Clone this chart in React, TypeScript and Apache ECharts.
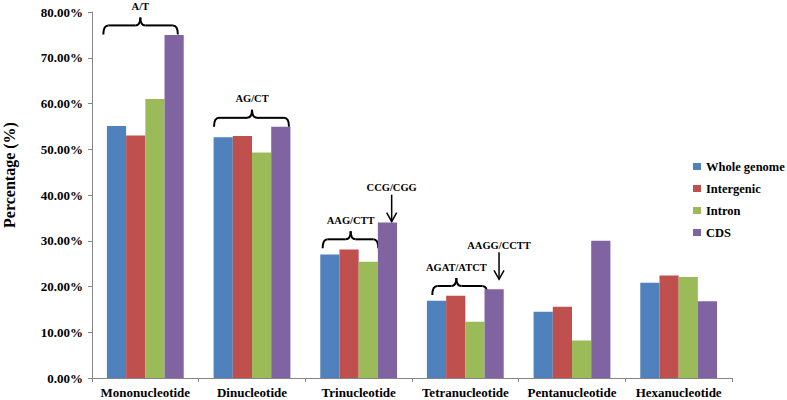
import React, { useEffect, useRef } from "react";
import * as echarts from "echarts";

const categories = [
  "Mononucleotide",
  "Dinucleotide",
  "Trinucleotide",
  "Tetranucleotide",
  "Pentanucleotide",
  "Hexanucleotide",
];
const seriesNames = ["Whole genome", "Intergenic", "Intron", "CDS"];
const wholeGenome = [55.1, 52.6, 27.0, 16.9, 14.5, 20.8];
const intergenic = [53.0, 52.9, 28.1, 18.0, 15.6, 22.4];
const intron = [61.0, 49.3, 25.4, 12.3, 8.2, 22.1];
const cds = [75.0, 54.9, 34.0, 19.4, 30.0, 16.8];
const colors = ["#4F81BD", "#C0504D", "#9BBB59", "#8064A2"];
const yTicks = [0, 10, 20, 30, 40, 50, 60, 70, 80];
const yTitle = "Percentage (%)";

// annotation config: category index, x offsets (px) from category centre, anchor value (%)
const braces = [
  { cat: 0, x0: -42, x1: 32.5, xm: -5, value: 75.1, label: "A/T" },
  { cat: 1, x0: -38, x1: 37, xm: 0, value: 54.9, label: "AG/CT" },
  { cat: 2, x0: -36, x1: 19.6, xm: -8, value: 28.35, label: "AAG/CTT" },
  { cat: 3, x0: -33, x1: 22, xm: -9, value: 18.14, label: "AGAT/ATCT" },
];
const arrows = [
  { cat: 2, dx: 33, value: 34.16, label: "CCG/CGG" },
  { cat: 3, dx: 33.7, value: 21.57, label: "AAGG/CCTT" },
];

const FONT = "Liberation Serif, serif";

export default function App() {
  const ref = useRef<HTMLDivElement>(null);
  useEffect(() => {
    if (!ref.current) return;
    const chart = echarts.init(ref.current, null, { renderer: "svg" });
    const data = [wholeGenome, intergenic, intron, cds];
    chart.setOption({
      animation: false,
      color: colors,
      grid: {
        left: 92,
        right: 55,
        top: 12,
        bottom: 22,
        containLabel: false,
        outerBoundsMode: "none",
      },
      legend: {
        orient: "vertical",
        left: 693,
        top: 160,
        padding: 0,
        itemWidth: 8,
        itemHeight: 7,
        itemGap: 9,
        icon: "rect",
        data: seriesNames,
        textStyle: {
          fontFamily: FONT,
          fontWeight: "bold",
          fontSize: 12.5,
          color: "#000",
          lineHeight: 13,
        },
      },
      xAxis: {
        type: "category",
        data: categories,
        axisLine: { lineStyle: { color: "#868686", width: 1 } },
        axisTick: { show: true, length: 4, lineStyle: { color: "#868686" } },
        axisLabel: {
          fontFamily: FONT,
          fontWeight: "bold",
          fontSize: 13,
          color: "#000",
          margin: 8,
          interval: 0,
        },
      },
      yAxis: {
        type: "value",
        min: yTicks[0],
        max: yTicks[yTicks.length - 1],
        interval: 10,
        axisLine: { show: true, lineStyle: { color: "#868686", width: 1 } },
        axisTick: { show: true, length: 4, lineStyle: { color: "#868686" } },
        splitLine: { show: false },
        axisLabel: {
          fontFamily: FONT,
          fontWeight: "bold",
          fontSize: 13,
          color: "#000",
          margin: 9,
          formatter: (v: number) => v.toFixed(2) + "%",
        },
      },
      series: seriesNames.map((name, i) => ({
        name,
        type: "bar",
        data: data[i],
        barGap: "0%",
        barCategoryGap: "28%",
        itemStyle: { color: colors[i] },
      })),
    });

    const g: any[] = [];
    g.push({
      type: "text",
      x: 9.5,
      y: 175,
      rotation: Math.PI / 2,
      style: {
        text: yTitle,
        fontFamily: FONT,
        fontWeight: "bold",
        fontSize: 16,
        fill: "#000",
        align: "center",
        verticalAlign: "middle",
      },
    });
    const stroke = { stroke: "#000", lineWidth: 2, fill: null };
    const textStyle = (x: number, y: number, t: string) => ({
      type: "text",
      x,
      y,
      style: {
        text: t,
        fontFamily: FONT,
        fontWeight: "bold",
        fontSize: 10.5,
        fill: "#000",
        align: "center",
        verticalAlign: "middle",
      },
    });
    braces.forEach((b) => {
      const cx = chart.convertToPixel({ xAxisIndex: 0 }, categories[b.cat]) as number;
      const yEnd = chart.convertToPixel({ yAxisIndex: 0 }, b.value) as number;
      const yH = yEnd - 9;
      const yP = yH - 8;
      const x0 = cx + b.x0;
      const x1 = cx + b.x1;
      const xm = cx + b.xm;
      const r = 5;
      g.push(
        { type: "bezierCurve", shape: { x1: x0, y1: yEnd, x2: x0 + r, y2: yH, cpx1: x0, cpy1: yH }, style: stroke },
        { type: "line", shape: { x1: x0 + r, y1: yH, x2: xm - r, y2: yH }, style: stroke },
        { type: "bezierCurve", shape: { x1: xm - r, y1: yH, x2: xm, y2: yP, cpx1: xm, cpy1: yH }, style: stroke },
        { type: "bezierCurve", shape: { x1: xm, y1: yP, x2: xm + r, y2: yH, cpx1: xm, cpy1: yH }, style: stroke },
        { type: "line", shape: { x1: xm + r, y1: yH, x2: x1 - r, y2: yH }, style: stroke },
        { type: "bezierCurve", shape: { x1: x1 - r, y1: yH, x2: x1, y2: yEnd, cpx1: x1, cpy1: yH }, style: stroke },
        textStyle(xm, yP - 11, b.label)
      );
    });
    arrows.forEach((a) => {
      const cx = chart.convertToPixel({ xAxisIndex: 0 }, categories[a.cat]) as number;
      const yTip = chart.convertToPixel({ yAxisIndex: 0 }, a.value) as number;
      const x = cx + a.dx;
      const yTop = yTip - 27;
      g.push(
        { type: "line", shape: { x1: x, y1: yTop, x2: x, y2: yTip }, style: { stroke: "#000", lineWidth: 1.5 } },
        {
          type: "polyline",
          shape: { points: [[x - 5, yTip - 9], [x, yTip], [x + 5, yTip - 9]] },
          style: { stroke: "#000", lineWidth: 1.5, fill: null },
        },
        textStyle(x, yTop - 7, a.label)
      );
    });
    chart.setOption({ graphic: g });

    return () => chart.dispose();
  }, []);
  return (
    <div
      ref={ref}
      style={{ position: "fixed", left: 0, top: 0, width: 787, height: 400, background: "#fff" }}
    />
  );
}
